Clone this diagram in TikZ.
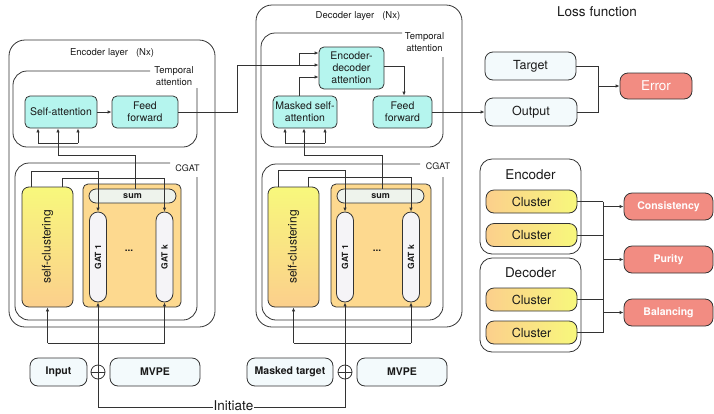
\documentclass[tikz,border=0pt]{standalone}
\usepackage{fontspec}
\setmainfont{TeX Gyre Heros}
\usetikzlibrary{arrows.meta,calc}
\definecolor{linec}{HTML}{333333}
\definecolor{textc}{HTML}{1A1A1A}
\definecolor{cyanf}{HTML}{B5F5EE}
\definecolor{lightf}{HTML}{F3FAFC}
\definecolor{orangef}{HTML}{FDD98F}
\definecolor{sumf}{HTML}{EEF3EC}
\definecolor{gatf}{HTML}{F5F4F7}
\definecolor{scy}{HTML}{F8F87C}
\definecolor{sco}{HTML}{FBCF8C}
\definecolor{salmon}{HTML}{F28C82}
\begin{document}
\begin{tikzpicture}[x=1pt,y=-1pt,
  line/.style={draw=linec,line width=0.8pt},
  arr/.style={line,-{Latex[length=4pt,width=3.4pt]}},
  container/.style={draw=linec,line width=0.8pt,rounded corners=16pt,inner sep=0pt},
  cbox/.style={draw=linec,line width=0.8pt,fill=cyanf,rounded corners=5pt,inner sep=0pt,align=center,text=textc,font=\fontsize{10.5}{11.8}\selectfont},
  lbox/.style={draw=linec,line width=0.8pt,fill=lightf,rounded corners=8pt,inner sep=0pt,align=center,text=textc},
  lossbox/.style={draw=linec,line width=0.8pt,fill=salmon,rounded corners=8pt,inner sep=0pt,text=white},
  clbox/.style={draw=linec,line width=0.8pt,left color=sco,right color=scy,rounded corners=8pt,inner sep=0pt,text=textc,font=\fontsize{12.5}{14}\selectfont,minimum width=91pt,minimum height=23pt},
  scbox/.style={draw=linec,line width=0.8pt,top color=scy,bottom color=sco,rounded corners=7pt,inner sep=0pt,minimum width=51pt,minimum height=120pt},
  gcbox/.style={draw=linec,line width=0.8pt,fill=orangef,rounded corners=5pt,inner sep=0pt,minimum height=123pt},
  sumbox/.style={draw=linec,line width=0.8pt,fill=sumf,rounded corners=7pt,inner sep=0pt,minimum width=87pt,minimum height=14pt,text=textc,font=\bfseries\fontsize{9}{10}\selectfont},
  gatbox/.style={draw=linec,line width=0.8pt,fill=gatf,rounded corners=8.5pt,inner sep=0pt,minimum width=17pt,minimum height=90pt},
  gatlab/.style={rotate=90,text=textc,font=\bfseries\fontsize{8.5}{10}\selectfont},
  plusn/.style={draw=linec,line width=0.8pt,circle,minimum size=14pt,inner sep=0pt},
  lab/.style={text=textc,inner sep=1pt,align=center}
]
\useasboundingbox (0,0) rectangle (714,413);

% ---------- outer containers ----------
\node[container,minimum width=206pt,minimum height=287pt] (encL) at (112,183.5) {};
\node[container,minimum width=206pt,minimum height=322pt] (decL) at (359,166) {};
\node[lab,font=\fontsize{9.5}{11}\selectfont] (encLt) at (112,53) {Encoder layer\ \ \ (Nx)};
\node[lab,font=\fontsize{9.5}{11}\selectfont] (decLt) at (358,16) {Decoder layer\ \ \ (Nx)};

% open boxes
\draw[line,rounded corners=14pt] (150,71) -- (13,71) -- (13,147) -- (197,147) -- (197,88);
\draw[line,rounded corners=14pt] (170,163) -- (15,163) -- (15,320) -- (197,320) -- (197,177);
\draw[line,rounded corners=14pt] (402,33) -- (261,33) -- (261,147) -- (443,147) -- (443,57);
\draw[line,rounded corners=14pt] (420,164) -- (262,164) -- (262,320) -- (443,320) -- (443,177);
\node[lab,font=\fontsize{9.5}{12}\selectfont] (eta) at (174,76) {Temporal\\attention};
\node[lab,font=\fontsize{9.5}{12}\selectfont] (dta) at (424.5,42) {Temporal\\attention};
\node[lab,font=\fontsize{9}{10}\selectfont] (ecg) at (187.5,168) {CGAT};
\node[lab,font=\fontsize{9}{10}\selectfont] (dcg) at (438,166) {CGAT};

% ---------- encoder ----------
\node[cbox,minimum width=72pt,minimum height=32pt] (sa) at (61,112) {Self-attention};
\node[cbox,minimum width=66pt,minimum height=32pt] (ff) at (145,112) {Feed\\forward};
\node[scbox] (sc) at (47.5,247) {};
\node[rotate=90,text=textc,font=\fontsize{12}{13}\selectfont] (sct) at (sc) {self-clustering};
\node[gcbox,minimum width=98pt] (gc) at (132,245.5) {};
\node[sumbox] (sum) at (132.5,196) {sum};
\node[gatbox] (g1) at (98,257) {};
\node[gatlab] (g1t) at (g1) {GAT 1};
\node[gatbox] (gk) at (164.5,257) {};
\node[gatlab] (gkt) at (gk) {GAT k};
\node[lab,font=\bfseries\fontsize{10}{10}\selectfont] (dots1) at (129,251) {...};
\node[lbox,minimum width=57pt,minimum height=28pt,font=\bfseries\fontsize{10.5}{12}\selectfont] (inp) at (58.5,372) {Input};
\node[lbox,minimum width=90pt,minimum height=28pt,font=\bfseries\fontsize{10.5}{12}\selectfont] (mv1) at (155,372) {MVPE};
\node[plusn] (p1) at (98,372) {};
\draw[line] (p1.north) -- (p1.south) (p1.west) -- (p1.east);

\draw[arr] (31,0 |- sc.north) -- (31,171) -| (g1.north);
\draw[arr] (62,0 |- sc.north) -- (62,178) -| (gk.north);
\draw[arr] (135,0 |- sum.north) -- (135,155) -| (58,0 |- sa.south);
\draw[line] (38,143) -- (78,143);
\draw[arr] (38,143) -- (38,0 |- sa.south);
\draw[arr] (78,143) -- (78,0 |- sa.south);
\draw[arr] (sa) -- (ff);
\draw[arr] (p1.north) -- (g1.south);
\draw[line] (47.5,343) -- (164.5,343);
\draw[arr] (47.5,343) -- (sc.south);
\draw[arr] (164.5,343) -- (gk.south);

% ---------- decoder ----------
\node[cbox,minimum width=64pt,minimum height=32pt] (mask) at (305,112) {Masked self-\\attention};
\node[cbox,minimum width=65pt,minimum height=42pt] (encdec) at (351.5,68) {Encoder-\\decoder\\attention};
\node[cbox,minimum width=59pt,minimum height=32pt] (dff) at (402.5,112) {Feed\\forward};
\node[scbox] (dsc) at (293.5,247) {};
\node[rotate=90,text=textc,font=\fontsize{12}{13}\selectfont] (dsct) at (dsc) {self-clustering};
\node[gcbox,minimum width=100pt] (dgc) at (381,245.5) {};
\node[sumbox] (dsum) at (380.5,196) {sum};
\node[gatbox] (dg1) at (345,257) {};
\node[gatlab] (dg1t) at (dg1) {GAT 1};
\node[gatbox] (dgk) at (411,257) {};
\node[gatlab] (dgkt) at (dgk) {GAT k};
\node[lab,font=\bfseries\fontsize{10}{10}\selectfont] (dots2) at (377,251) {...};
\node[lbox,minimum width=86pt,minimum height=28pt,font=\bfseries\fontsize{10.5}{12}\selectfont] (mt) at (290,372) {Masked target};
\node[lbox,minimum width=90pt,minimum height=28pt,font=\bfseries\fontsize{10.5}{12}\selectfont] (mv2) at (402,372) {MVPE};
\node[plusn] (p2) at (345,372) {};
\draw[line] (p2.north) -- (p2.south) (p2.west) -- (p2.east);

\draw[arr] (278,0 |- dsc.north) -- (278,170) -| (dg1.north);
\draw[arr] (308,0 |- dsc.north) -- (308,177) -| (dgk.north);
\draw[arr] (382,0 |- dsum.north) -- (382,155) -| (304,0 |- mask.south);
\draw[line] (285,143) -- (325,143);
\draw[arr] (285,143) -- (285,0 |- mask.south);
\draw[arr] (325,143) -- (325,0 |- mask.south);
\draw[arr] (p2.north) -- (dg1.south);
\draw[line] (293.5,343) -- (411,343);
\draw[arr] (293.5,343) -- (dsc.south);
\draw[arr] (411,343) -- (dgk.south);

% encoder -> decoder
\draw[arr] (ff.east) -- (237,112) |- ([yshift=3pt]encdec.west);
\draw[arr] (299,65) |- ([yshift=15pt]encdec.west);
\draw[arr] (299,0 |- mask.north) |- ([yshift=-9pt]encdec.west);
\draw[arr] ([yshift=2pt]encdec.east) -- (404,66) -- (404,0 |- dff.north);

% initiate
\node[lab,font=\fontsize{13.5}{14}\selectfont] (init) at (233.5,406) {Initiate};
\draw[line] (p1.south) -- (98,407) -- (init.west |- 0,407);
\draw[line] (init.east |- 0,407) -- (345,407) -- (p2.south);

% ---------- loss function ----------
\node[lab,font=\fontsize{13.5}{15}\selectfont] (losst) at (597,12) {Loss function};
\node[lbox,minimum width=91pt,minimum height=28pt,font=\fontsize{12.5}{14}\selectfont] (target) at (530.5,66) {Target};
\node[lbox,minimum width=92pt,minimum height=28pt,font=\fontsize{12.5}{14}\selectfont] (output) at (531,112) {Output};
\node[lossbox,minimum width=72pt,minimum height=26pt,font=\fontsize{13.5}{15}\selectfont] (error) at (656,86) {Error};
\draw[arr] (dff.east) -- (output.west);
\draw[line] (target.east) -- (598,0 |- target.east) -- (598,0 |- output.east) -- (output.east);
\draw[arr] (598,86) -- (error.west);

\node[draw=linec,line width=0.8pt,rounded corners=12pt,minimum width=101pt,minimum height=95pt] (encg) at (530.5,206.5) {};
\node[draw=linec,line width=0.8pt,rounded corners=12pt,minimum width=101pt,minimum height=94pt] (decg) at (530.5,305) {};
\node[lab,font=\fontsize{13.5}{15}\selectfont] (encgt) at (530.5,175) {Encoder};
\node[lab,font=\fontsize{13.5}{15}\selectfont] (decgt) at (530.5,273) {Decoder};
\node[clbox] (c1) at (531.5,201.5) {Cluster};
\node[clbox] (c2) at (531.5,235) {Cluster};
\node[clbox] (c3) at (531.5,299.5) {Cluster};
\node[clbox] (c4) at (531.5,332.5) {Cluster};
\node[lossbox,minimum width=89pt,minimum height=27pt,font=\bfseries\fontsize{10.5}{12}\selectfont] (cons) at (668.5,206.5) {Consistency};
\node[lossbox,minimum width=89pt,minimum height=27pt,font=\bfseries\fontsize{10.5}{12}\selectfont] (pur) at (668.5,259.5) {Purity};
\node[lossbox,minimum width=89pt,minimum height=27pt,font=\bfseries\fontsize{10.5}{12}\selectfont] (bal) at (668.5,312.5) {Balancing};
\draw[line] (c1.east) -- (603,0 |- c1.east);
\draw[line] (c2.east) -- (603,0 |- c2.east);
\draw[line] (c3.east) -- (603,0 |- c3.east);
\draw[line] (c4.east) -- (603,0 |- c4.east);
\draw[line] (603,0 |- c1.east) -- (603,0 |- c4.east);
\draw[arr] (603,0 |- cons.west) -- (cons.west);
\draw[arr] (603,0 |- pur.west) -- (pur.west);
\draw[arr] (603,0 |- bal.west) -- (bal.west);
\end{tikzpicture}
\end{document}
